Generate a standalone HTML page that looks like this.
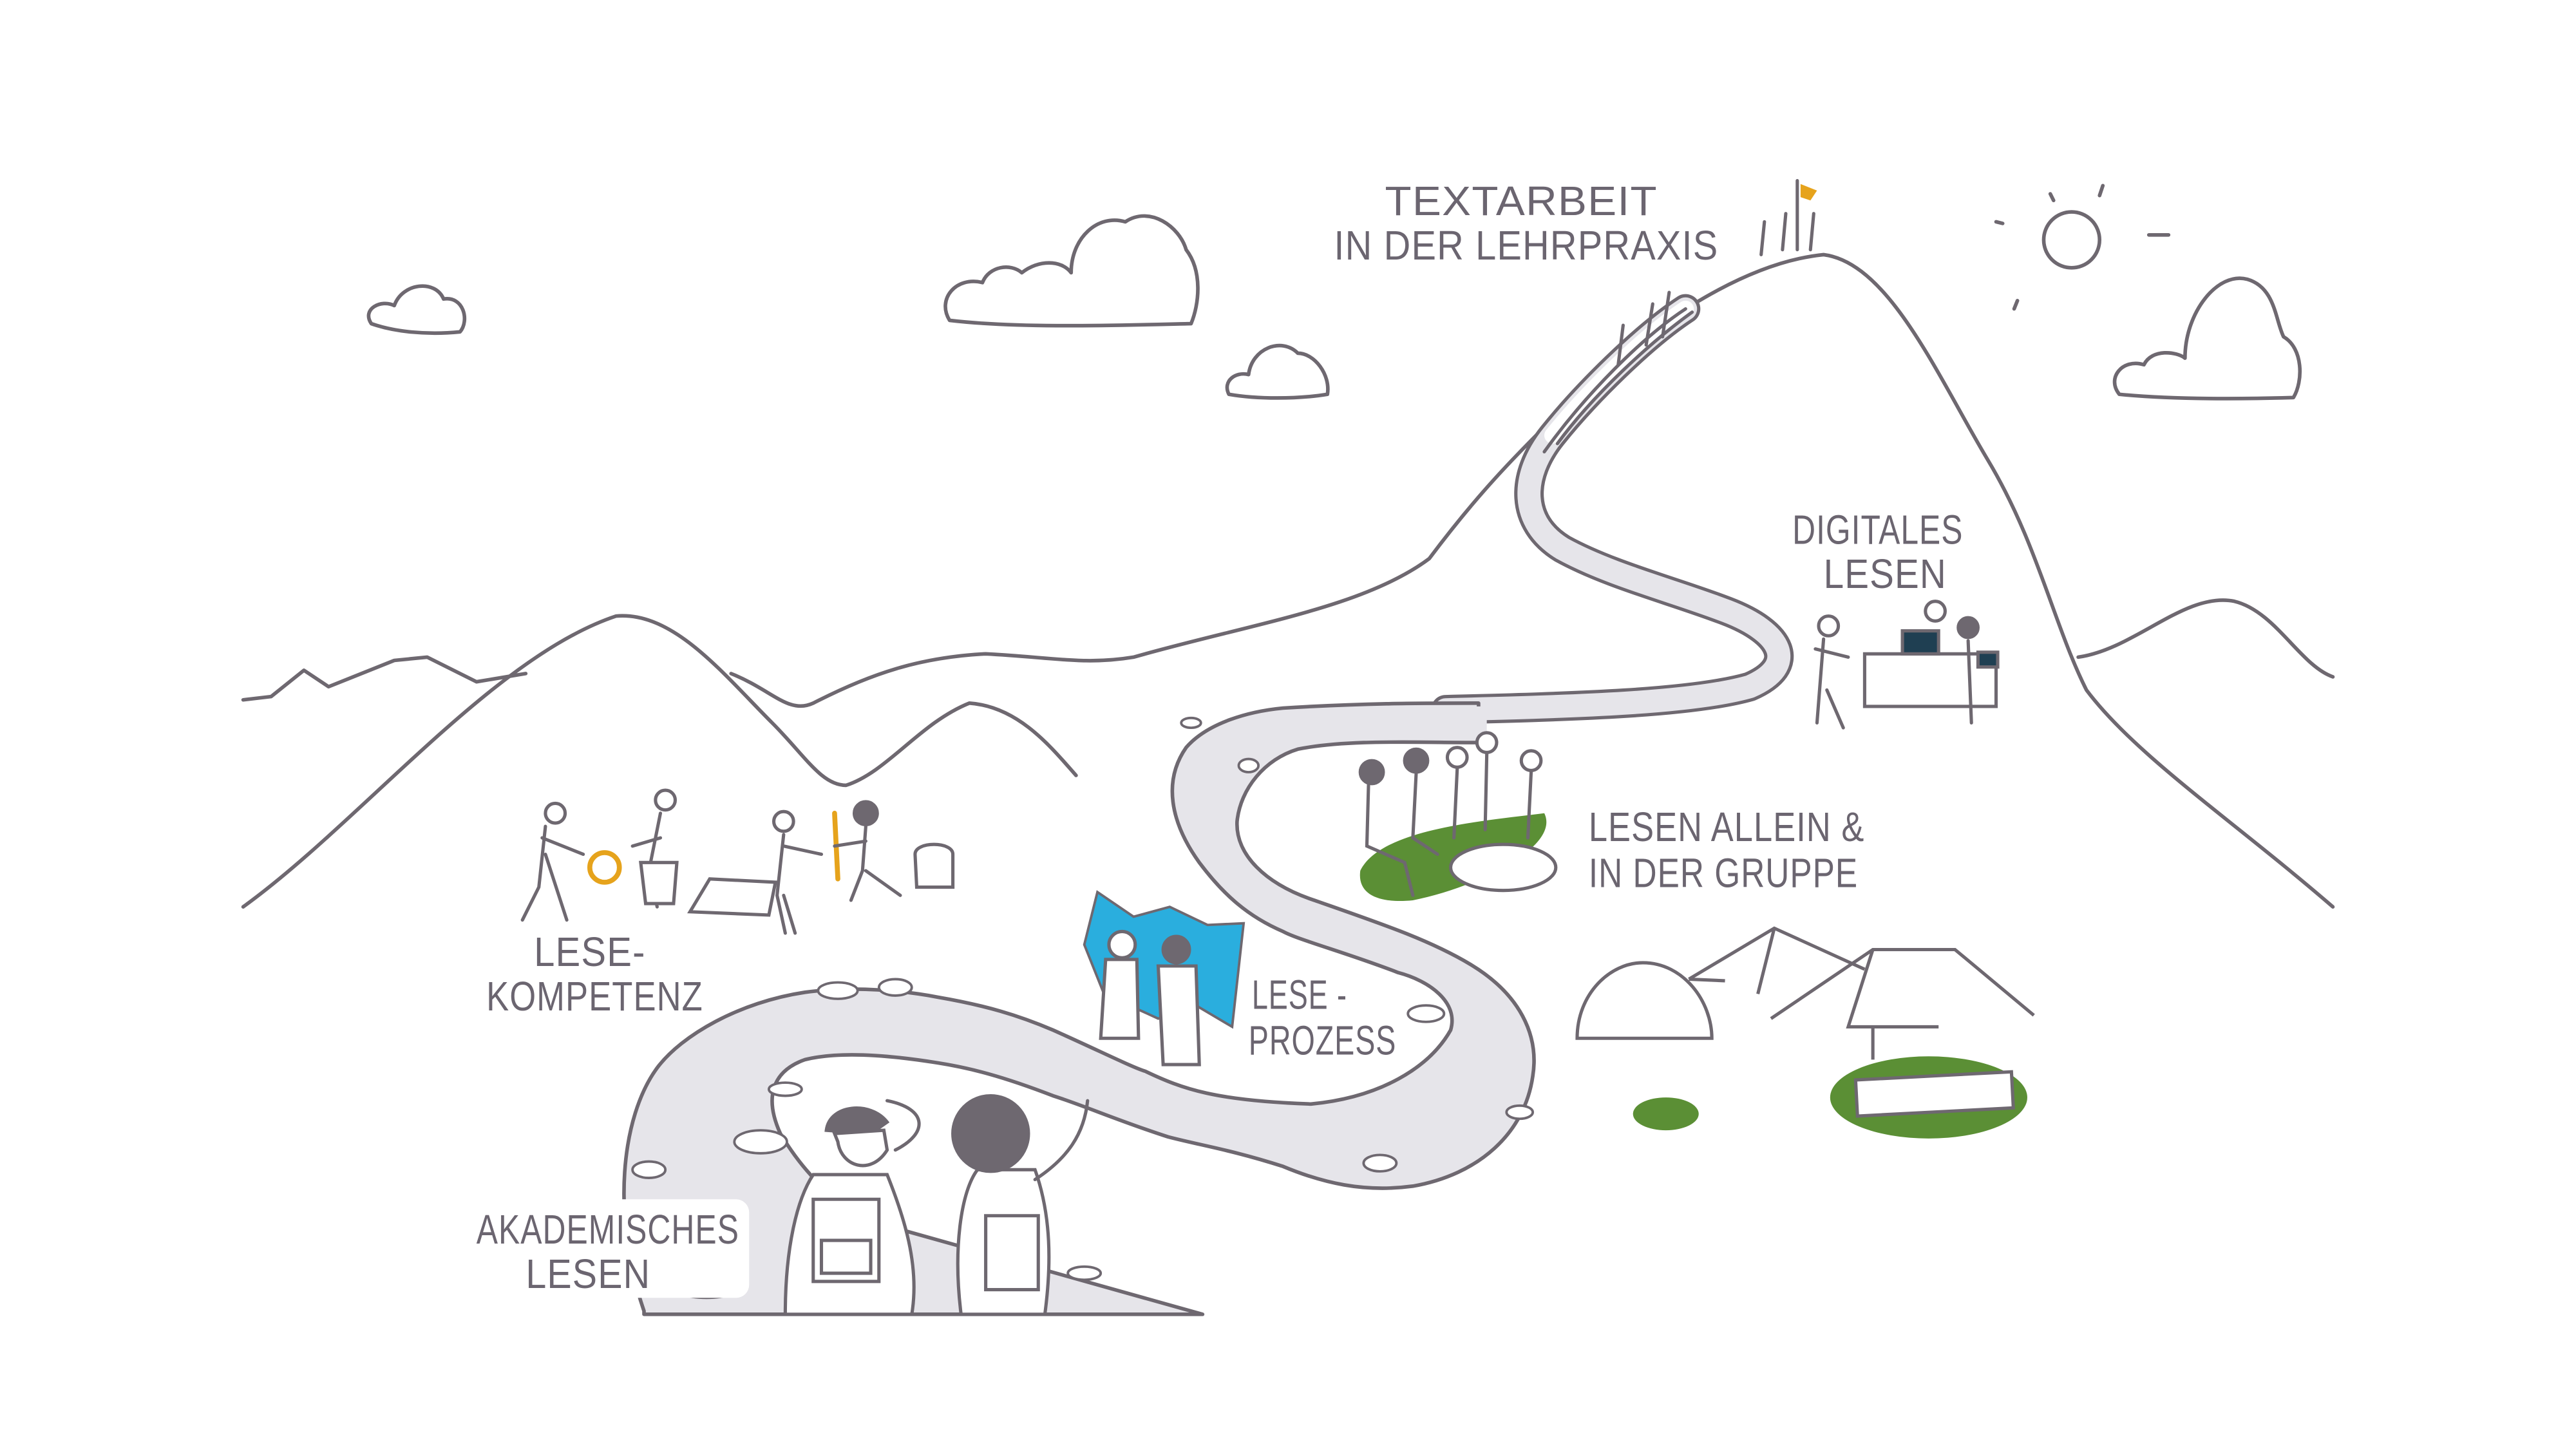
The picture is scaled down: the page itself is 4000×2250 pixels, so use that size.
<!DOCTYPE html>
<html><head><meta charset="utf-8"><style>
html,body{margin:0;padding:0;background:#fff}
svg{display:block}
text{font-family:"Liberation Sans",sans-serif;fill:#6b6570;font-size:25px;letter-spacing:0.5px}
</style></head><body>
<svg width="4000" height="2250" viewBox="0 0 1568 882" xmlns="http://www.w3.org/2000/svg">
<rect width="1568" height="882" fill="#fff"/>
<g fill="none" stroke="#6e6870" stroke-width="2.2" stroke-linecap="round" stroke-linejoin="round">
<path d="M148,426 L165,424 L185,408 L200,418 L215,412 L240,402 L260,400 L290,415 L320,410"/>
<path d="M148,552 C220,500 300,400 375,375 C410,372 440,410 470,440 C490,460 500,478 515,478 C540,470 560,440 590,428 C620,430 640,455 655,472"/>
<path d="M445,410 C470,420 480,435 495,428 C530,410 560,400 600,398 C640,400 660,405 690,400 C760,380 830,370 870,340 C900,300 920,280 950,250 C1000,200 1060,160 1110,155 C1150,160 1180,230 1210,280 C1240,330 1250,380 1270,420 C1300,460 1360,500 1420,552"/>
<path d="M1265,400 C1300,395 1330,360 1360,366 C1385,372 1400,405 1420,412"/>
<path d="M226,197 C220,188 232,182 240,186 C245,172 265,170 270,182 C282,180 286,195 280,202 C260,204 240,202 226,197Z"/>
<path d="M578,195 C570,182 582,168 598,172 C602,162 615,160 622,166 C632,158 646,158 652,166 C652,145 668,130 685,135 C700,125 718,138 722,152 C732,165 730,185 725,197 C680,198 620,200 578,195Z"/>
<path d="M748,240 C744,232 752,226 760,228 C762,212 780,205 790,215 C800,215 810,228 808,240 C790,243 765,243 748,240Z"/>
<path d="M1290,240 C1282,230 1292,218 1305,222 C1310,212 1325,214 1330,218 C1330,190 1350,165 1368,170 C1385,175 1385,195 1390,205 C1402,212 1402,232 1396,242 C1360,243 1320,243 1290,240Z"/>
<circle cx="1261" cy="146" r="17"/>
<path d="M1248,118 L1250,122 M1280,113 L1278,119 M1215,135 L1219,136 M1228,183 L1226,188 M1308,143 L1320,143"/>
</g>
<!-- upper road -->
<g fill="none" stroke-linecap="round" stroke-linejoin="round">
<path d="M880,432 C960,430 1030,428 1065,418 C1095,405 1085,385 1051,372 C1020,360 980,350 951,334 C925,318 925,290 945,265 C965,240 1000,205 1026,188" stroke="#6e6870" stroke-width="18"/>
<path d="M880,432 C960,430 1030,428 1065,418 C1095,405 1085,385 1051,372 C1020,360 980,350 951,334 C925,318 925,290 945,265 C965,240 1000,205 1026,188" stroke="#e6e5ea" stroke-width="14"/>
<path d="M945,265 C965,240 1000,205 1026,188" stroke="#fff" stroke-width="10"/>
<path d="M940,275 C965,240 1000,205 1026,188 M948,270 C970,240 1005,208 1030,190" stroke="#6e6870" stroke-width="2"/>
</g>
<!-- lower road -->
<path d="M392,798 C372,740 378,680 400,650 C415,630 450,610 490,604 C520,600 550,603 571,607 C600,612 620,618 641,627 C670,640 690,650 697,652 C720,663 740,670 798,672 C840,668 870,650 883,627 C888,610 870,597 851,592 C820,580 790,572 781,567 C760,558 745,545 730,525 C712,500 708,475 722,455 C735,440 760,433 781,431 C830,428 860,428 900,428 L900,452 C860,452 820,450 790,456 C770,462 755,480 753,500 C752,520 770,538 800,548 C840,562 870,572 895,587 C925,605 937,630 933,655 C928,690 900,715 860,722 C830,726 805,720 781,710 C750,700 730,697 711,692 C680,682 660,673 641,667 C610,655 590,650 571,647 C540,642 510,640 490,645 C470,652 465,668 475,690 C490,715 510,735 536,745 L732,800 L392,800 Z" fill="#e6e5ea" stroke="#6e6870" stroke-width="2.2" stroke-linejoin="round"/>
<rect x="895" y="430" width="10" height="20" fill="#e6e5ea"/>
<!-- stones -->
<g fill="#fff" stroke="#6e6870" stroke-width="1.5">
<ellipse cx="510" cy="603" rx="12" ry="5"/><ellipse cx="545" cy="601" rx="10" ry="5"/>
<ellipse cx="478" cy="663" rx="10" ry="4"/><ellipse cx="463" cy="695" rx="16" ry="7"/>
<ellipse cx="395" cy="712" rx="10" ry="5"/><ellipse cx="430" cy="782" rx="22" ry="8"/>
<ellipse cx="868" cy="617" rx="11" ry="5"/><ellipse cx="840" cy="708" rx="10" ry="5"/>
<ellipse cx="760" cy="466" rx="6" ry="4"/><ellipse cx="725" cy="440" rx="6" ry="3"/>
<ellipse cx="660" cy="775" rx="10" ry="4"/><ellipse cx="925" cy="677" rx="8" ry="4"/>
</g>
<!-- tents -->
<g fill="none" stroke="#6e6870" stroke-width="2">
<path d="M960,632 C960,605 980,586 1000,586 C1025,586 1042,610 1042,632 Z" fill="#fff"/>
<path d="M1028,596 L1080,565 L1135,590 M1080,565 L1070,605 M1050,597 L1028,596"/>
<path d="M1078,620 L1140,578 L1190,578 L1238,618 M1140,578 L1125,625 L1180,625"/>
<path d="M1140,625 L1140,645"/>
</g>
<ellipse cx="1174" cy="668" rx="60" ry="25" fill="#5b8f35"/>
<rect x="1130" y="655" width="95" height="22" fill="#fff" stroke="#6e6870" stroke-width="2" transform="rotate(-3 1175 666)"/>
<ellipse cx="1014" cy="678" rx="20" ry="10" fill="#5b8f35"/>
<path d="M828,530 C840,505 900,500 940,495 C950,515 900,540 860,548 C840,550 826,545 828,530Z" fill="#5b8f35"/>
<ellipse cx="915" cy="528" rx="32" ry="14" fill="#fff" stroke="#6e6870" stroke-width="2"/>
<path d="M668,543 L690,558 L712,552 L735,563 L757,562 L750,625 L728,612 L705,620 L672,605 L660,575 Z" fill="#2aaede" stroke="#6e6870" stroke-width="1.5"/>
<g fill="#fff" stroke="#6e6870" stroke-width="2" stroke-linecap="round">
<circle cx="683" cy="575" r="8"/><path d="M673,584 L670,632 L693,632 L692,584 Z"/>
<circle cx="716" cy="578" r="8" fill="#6e6870"/><path d="M705,588 L708,648 L730,648 L728,588 Z"/>
<!-- hikers front -->
<path d="M478,800 C478,760 485,730 495,715 L540,715 C550,740 560,770 555,800 Z"/>
<path d="M503,688 C505,672 530,670 540,683 L530,690 Z" fill="#6e6870"/>
<path d="M510,695 C512,710 530,716 540,700 L538,688 L508,690 Z"/>
<path d="M495,730 L495,780 L535,780 L535,730 Z"/>
<path d="M500,755 L530,755 L530,775 L500,775Z"/>
<path d="M545,700 C565,690 565,675 540,670" fill="none"/>
<path d="M585,800 C580,760 585,725 595,712 L630,712 C640,740 640,770 636,800 Z"/>
<circle cx="603" cy="690" r="23" fill="#6e6870"/>
<path d="M600,740 L600,785 L632,785 L632,740 Z"/>
<path d="M630,718 C650,705 660,690 662,670" fill="none"/>
<!-- lesekompetenz group -->
<circle cx="338" cy="495" r="6"/><path d="M332,503 L328,540 L318,560 M332,520 L345,560 M330,510 L355,520" fill="none"/>
<circle cx="405" cy="487" r="6"/><path d="M402,495 L395,530 L400,552 M402,510 L385,515" fill="none"/>
<path d="M390,525 L412,525 L410,550 L393,550 Z"/>
<circle cx="368" cy="528" r="9" fill="none" stroke="#e6a31c" stroke-width="3"/>
<path d="M420,555 L432,535 L472,537 L468,557 Z"/>
<circle cx="477" cy="500" r="6"/><path d="M477,508 L473,545 L478,568 M477,545 L484,568 M477,515 L500,520" fill="none"/>
<path d="M508,495 L510,535" stroke="#e6a31c" stroke-width="3" fill="none"/>
<circle cx="527" cy="495" r="7" fill="#6e6870"/><path d="M527,503 L525,530 L518,548 M527,530 L548,545 M527,512 L508,515" fill="none"/>
<path d="M557,520 C557,512 580,512 580,520 L580,540 L558,540 Z"/>
<!-- group -->
<circle cx="835" cy="470" r="7" fill="#6e6870"/><path d="M833,478 L832,515 L855,525 L860,545" fill="none"/>
<circle cx="862" cy="463" r="7" fill="#6e6870"/><path d="M862,471 L860,510 L875,520" fill="none"/>
<circle cx="887" cy="461" r="6"/><path d="M887,468 L885,510" fill="none"/>
<circle cx="905" cy="452" r="6"/><path d="M905,459 L904,505" fill="none"/>
<circle cx="932" cy="463" r="6"/><path d="M932,470 L930,510" fill="none"/>
<!-- digital -->
<circle cx="1113" cy="381" r="6"/><path d="M1110,389 L1106,440 M1112,420 L1122,443 M1105,395 L1125,400" fill="none"/>
<path d="M1135,398 L1215,398 L1215,430 L1135,430 Z"/>
<circle cx="1178" cy="372" r="6"/>
<rect x="1158" y="384" width="22" height="14" fill="#1f3f52"/>
<circle cx="1198" cy="382" r="6" fill="#6e6870"/><path d="M1198,390 L1200,440" fill="none"/>
<rect x="1204" y="397" width="12" height="9" fill="#1f3f52"/>
<path d="M1094,110 L1094,152" fill="none"/>
<path d="M1096,112 L1106,116 L1102,122 L1096,120Z" fill="#e6a31c" stroke="none"/>
<path d="M1072,155 L1074,135 M1085,152 L1087,130 M1102,152 L1104,130" fill="none"/>
<path d="M985,222 L988,198 M1002,210 L1006,185 M1012,205 L1016,178" fill="none"/>
</g>
<text x="843" y="131" textLength="166" lengthAdjust="spacingAndGlyphs">TEXTARBEIT</text>
<text x="812" y="158" textLength="234" lengthAdjust="spacingAndGlyphs">IN DER  LEHRPRAXIS</text>
<text x="1091" y="331" textLength="104" lengthAdjust="spacingAndGlyphs">DIGITALES</text>
<text x="1110" y="358" textLength="75" lengthAdjust="spacingAndGlyphs">LESEN</text>
<text x="967" y="512" textLength="168" lengthAdjust="spacingAndGlyphs">LESEN  ALLEIN &amp;</text>
<text x="967" y="540" textLength="164" lengthAdjust="spacingAndGlyphs">IN DER GRUPPE</text>
<text x="762" y="614" textLength="58" lengthAdjust="spacingAndGlyphs">LESE -</text>
<text x="760" y="642" textLength="90" lengthAdjust="spacingAndGlyphs">PROZESS</text>
<text x="325" y="588" textLength="68" lengthAdjust="spacingAndGlyphs">LESE-</text>
<text x="296" y="615" textLength="132" lengthAdjust="spacingAndGlyphs">KOMPETENZ</text>
<rect x="284" y="730" width="172" height="60" rx="8" fill="#fff"/>
<text x="290" y="757" textLength="160" lengthAdjust="spacingAndGlyphs">AKADEMISCHES</text>
<text x="320" y="784" textLength="76" lengthAdjust="spacingAndGlyphs">LESEN</text>
</svg>
</body></html>
